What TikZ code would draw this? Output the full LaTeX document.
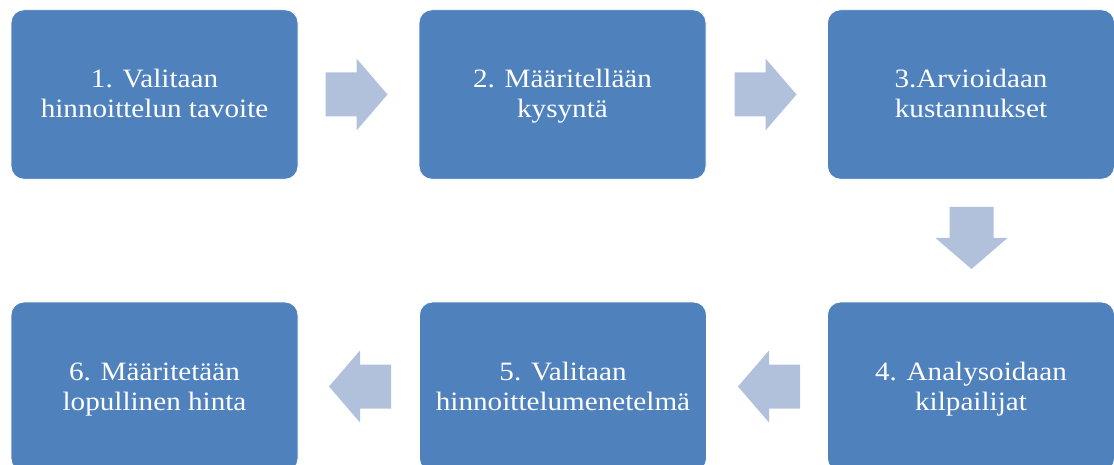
\documentclass[tikz,border=0pt]{standalone}
\usepackage{fontspec}
\usepackage{graphicx}
\setmainfont{Liberation Serif}
\definecolor{boxc}{HTML}{4F81BD}
\definecolor{arrc}{HTML}{B2C1DB}
\newcommand\twolines[2]{\scalebox{1.1}[1]{\vtop{\baselineskip=30pt\lineskiplimit=-100pt\halign{\hfil##\hfil\cr#1\cr#2\cr}}}}
\tikzset{
  stepbox/.style={rectangle, rounded corners=13pt, fill=boxc, draw=white, line width=0.8pt,
    minimum width=287pt, minimum height=169.5pt, inner sep=0pt},
  lbl/.style={anchor=base, inner sep=0pt, text=white, font=\fontsize{26.5}{30}\selectfont},
  bigarrow/.pic={\fill[arrc] (-31,-22) -- (0,-22) -- (0,-36) -- (31,0) -- (0,36) -- (0,22) -- (-31,22) -- cycle;}
}
\begin{document}
\begin{tikzpicture}[x=1pt,y=-1pt]
\useasboundingbox (0,0) rectangle (1114,465);
\node[stepbox] (b1) at (154.5,94.5) {};
\node[stepbox] (b2) at (562.5,94.5) {};
\node[stepbox] (b3) at (971,94.5) {};
\node[stepbox] (b4) at (971,386.75) {};
\node[stepbox] (b5) at (563,386.75) {};
\node[stepbox] (b6) at (154.5,386.75) {};
\node[lbl] (t1) at ([yshift=6.5pt]b1.center) {\twolines{1. Valitaan}{hinnoittelun tavoite}};
\node[lbl] (t2) at ([yshift=6.5pt]b2.center) {\twolines{2. Määritellään}{kysyntä}};
\node[lbl] (t3) at ([yshift=6.5pt]b3.center) {\twolines{3.Arvioidaan}{kustannukset}};
\node[lbl] (t4) at ([yshift=6.5pt]b4.center) {\twolines{4. Analysoidaan}{kilpailijat}};
\node[lbl] (t5) at ([yshift=6.5pt]b5.center) {\twolines{5. Valitaan}{hinnoittelumenetelmä}};
\node[lbl] (t6) at ([yshift=6.5pt]b6.center) {\twolines{6. Määritetään}{lopullinen hinta}};
\pic at (356.5,94.5) {bigarrow};
\pic at (765.5,94.5) {bigarrow};
\pic[rotate=-90] at (971.5,238) {bigarrow};
\pic[rotate=180] at (769,386.5) {bigarrow};
\pic[rotate=180] at (360,386.5) {bigarrow};
\end{tikzpicture}
\end{document}
